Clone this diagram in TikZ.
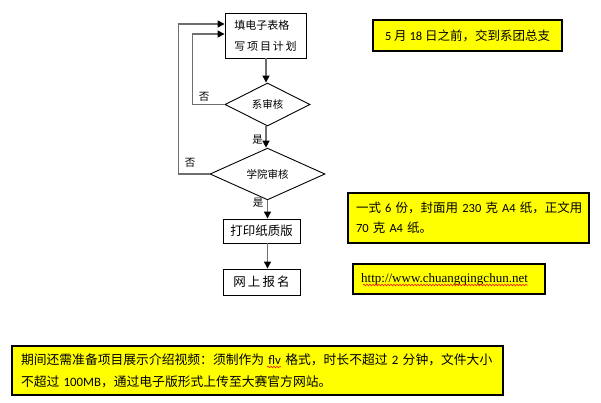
\documentclass[tikz,border=0pt]{standalone}
\usepackage{fontspec}
\setmainfont{Carlito}
\newfontfamily\cjk{Noto Sans CJK SC}
\newfontfamily\tnr{Liberation Serif}
\usetikzlibrary{arrows.meta,shapes.geometric,decorations.pathmorphing}
\definecolor{yel}{RGB}{255,255,0}
\definecolor{conn}{RGB}{110,110,110}
\begin{document}
\begin{tikzpicture}[x=1pt,y=-1pt,
  flowbox/.style={draw=black,line width=0.9pt,fill=white,inner sep=0pt,font=\cjk},
  decide/.style={draw=black,line width=0.9pt,diamond,fill=white,inner sep=0pt,font=\cjk\fontsize{10.5}{12}\selectfont},
  note/.style={draw=black,line width=1.3pt,fill=yel,inner sep=0pt},
  conn/.style={draw=conn,line width=1.3pt,-{Triangle[length=7pt,width=7pt,color=black]}},
  lbl/.style={font=\cjk\fontsize{10.5}{12}\selectfont,inner sep=0pt},
  wavy/.style={draw=red,line width=0.5pt,decorate,decoration={snake,amplitude=0.9pt,segment length=3pt}}]
\useasboundingbox (0,0) rectangle (601,402);
\fill[white] (0,0) rectangle (601,402);

% flowchart
\node[flowbox,minimum width=81pt,minimum height=45pt,align=left,font=\cjk\fontsize{11}{21}\selectfont] (b1) at (265.5,35.5) {填电子表格\\写\,项\,目\,计\,划};
\node[decide,minimum width=85pt,minimum height=43pt] (d1) at (267.5,104.5) {系审核};
\node[decide,minimum width=115pt,minimum height=44pt] (d2) at (267.5,174) {学院审核};
\node[flowbox,minimum width=77pt,minimum height=24pt,font=\cjk\fontsize{12.5}{14}\selectfont] (p) at (261.5,231) {打印纸质版};
\node[flowbox,minimum width=77pt,minimum height=26pt,font=\cjk\fontsize{12.5}{14}\selectfont] (w) at (261.5,282) {网\,上\,报\,名};

\draw[conn] ([xshift=0.5pt]b1.south) -- ([xshift=-1.5pt]d1.north);
\draw[conn] ([xshift=-1.5pt]d1.south) -- ([xshift=-1.5pt]d2.north);
\draw[conn] (d2.south) -- (d2.south |- p.north);
\draw[conn] (d2.south |- p.south) -- (d2.south |- w.north);

\draw[conn] (d1.west) -- ++(-32,0) |- ([yshift=1.5pt]b1.west);
\draw[conn] (d2.west) -- ++(-31,0) |- ([yshift=11.5pt]b1.west);

\node[lbl] (n1) at (204,97) {否};
\node[lbl] (n2) at (190,163) {否};
\node[lbl] (y1) at (257.5,140) {是};
\node[lbl] (y2) at (258,203) {是};

% notes
\node[note,minimum width=189pt,minimum height=31pt,font=\fontsize{12.5}{15}\selectfont] (t1) at (467.5,35.5) {5 {\cjk 月} 18 {\cjk 日之前，交到系团总支}};
\node[note,minimum width=241pt,minimum height=50pt,text width=225pt,inner xsep=8pt,align=left,font=\fontsize{12.5}{20}\selectfont] (t2) at (468.5,218) {\mbox{{\cjk 一式} 6 {\cjk 份，封面用} 230 {\cjk 克} A4 {\cjk 纸，正文用}}\\\mbox{70 {\cjk 克} A4 {\cjk 纸。}}};
\node[note,minimum width=192pt,minimum height=30pt,text width=180pt,inner xsep=6pt,align=left,font=\tnr\fontsize{13}{14}\selectfont] (t3) at (449,279) {\,\mbox{http://www.chuangqingchun.net}};
\node[note,minimum width=491pt,minimum height=49pt,text width=473pt,inner xsep=9pt,align=left,font=\fontsize{12.8}{22}\selectfont] (t4) at (257.5,370.5) {\mbox{{\cjk 期间还需准备项目展示介绍视频：须制作为} flv {\cjk 格式，时长不超过} 2 {\cjk 分钟，文件大小}}\\\mbox{{\cjk 不超过} 100MB{\cjk ，通过电子版形式上传至大赛官方网站。}}};

% spell-check underlines
\draw[wavy] ([xshift=-86pt,yshift=-6pt]t3.center) -- ([xshift=79pt,yshift=-6pt]t3.center);
\draw[wavy] (267,367) -- (281,367);

\end{tikzpicture}
\end{document}
